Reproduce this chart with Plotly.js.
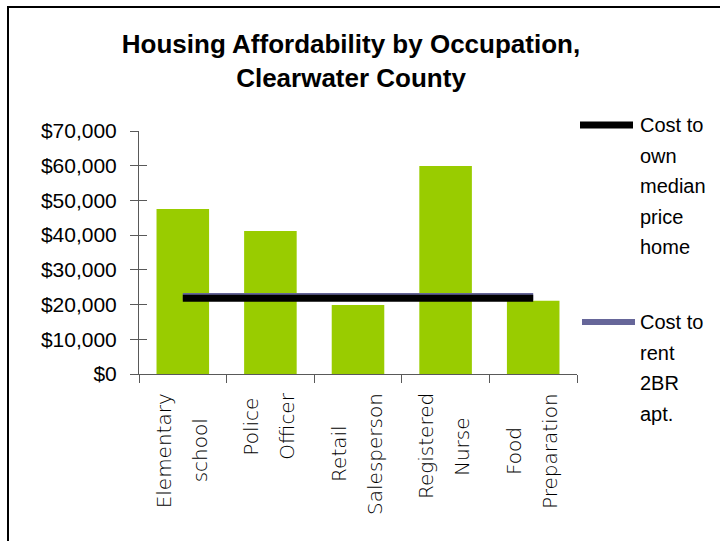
<!DOCTYPE html>
<html>
<head>
<meta charset="utf-8">
<script src="https://cdn.plot.ly/plotly-3.0.1.min.js"></script>
<style>html,body{margin:0;padding:0;background:#fff;}#chart{width:720px;height:541px;}</style>
</head>
<body>
<div id="chart"></div>
<script>
// ---- data ----
const labelLine1 = ['Elementary', 'Police', 'Retail', 'Registered', 'Food'];
const labelLine2 = ['school', 'Officer', 'Salesperson', 'Nurse', 'Preparation'];
const categories = labelLine1.map((a, i) => a + ' ' + labelLine2[i]);
const wages = [47500, 41200, 19900, 59900, 21100];
const ownCost = [21800, 21800, 21800, 21800, 21800];
const rentCost = [22300, 22300, 22300, 22300, 22300];
const yTicks = [0, 10000, 20000, 30000, 40000, 50000, 60000, 70000];
const yTickText = ['$0', '$10,000', '$20,000', '$30,000', '$40,000', '$50,000', '$60,000', '$70,000'];
const legendOwn = ['Cost to', 'own', 'median', 'price', 'home'];
const legendRent = ['Cost to', 'rent', '2BR', 'apt.'];
const titleText = 'Housing Affordability by Occupation,<br>Clearwater County';

// ---- layout geometry (pixels) ----
const W = 720, H = 541;
const L = 139, R = 577, T = 131, B = 374;
const px = x => (x - L) / (R - L);
const py = y => (B - y) / (B - T);

const catFont = 'DejaVu Sans';
const catSize = 20;
const cnv = document.createElement('canvas').getContext('2d');
cnv.font = catSize + 'px "' + catFont + '"';
const tw = s => cnv.measureText(s).width;

const traces = [
  {type: 'bar', x: categories, y: wages, width: 0.6,
   marker: {color: '#99CC00', line: {width: 0}}, showlegend: false, hoverinfo: 'none'},
  {type: 'scatter', mode: 'lines', x: categories, y: rentCost,
   line: {color: '#666699', width: 7}, showlegend: false, hoverinfo: 'none'},
  {type: 'scatter', mode: 'lines', x: categories, y: ownCost,
   line: {color: '#000000', width: 7}, showlegend: false, hoverinfo: 'none'},
  {type: 'scatter', mode: 'lines', x: [categories[0]], y: [0], yaxis: 'y2',
   showlegend: false, hoverinfo: 'none', line: {width: 0}}
];

const annotations = [];
const labelTop = 393;
categories.forEach((c, i) => {
  const block = Math.max(tw(labelLine1[i]), tw(labelLine2[i]));
  const cy = labelTop + block / 2;
  [[labelLine1[i], -19], [labelLine2[i], 17]].forEach(([t, dx]) => {
    annotations.push({
      xref: 'x', yref: 'paper', x: c, y: py(cy), xshift: dx,
      text: t, textangle: -90, showarrow: false,
      xanchor: 'center', yanchor: 'middle',
      font: {family: catFont, size: catSize, color: '#000', weight: 300}
    });
  });
});
const legFont = {family: 'Liberation Sans, Arial, sans-serif', size: 20, color: '#000'};
legendOwn.forEach((t, k) => annotations.push({
  xref: 'paper', yref: 'paper', x: px(638), y: py(125 + k * 30.5), text: t,
  showarrow: false, xanchor: 'left', yanchor: 'middle', font: legFont}));
legendRent.forEach((t, k) => annotations.push({
  xref: 'paper', yref: 'paper', x: px(638), y: py(322 + k * 30.7), text: t,
  showarrow: false, xanchor: 'left', yanchor: 'middle', font: legFont}));

const shapes = [
  {type: 'line', xref: 'paper', yref: 'paper', x0: px(580), x1: px(633), y0: py(125), y1: py(125),
   line: {color: '#000', width: 7}},
  {type: 'line', xref: 'paper', yref: 'paper', x0: px(582), x1: px(635), y0: py(322), y1: py(322),
   line: {color: '#666699', width: 6}},
  {type: 'rect', xref: 'paper', yref: 'paper', x0: px(8), x1: px(740), y0: py(560), y1: py(7),
   line: {color: '#000', width: 2}, fillcolor: 'rgba(0,0,0,0)'}
];

const axisColor = '#595959';
const layout = {
  width: W, height: H,
  margin: {l: L, r: W - R, t: T, b: H - B, pad: 0},
  paper_bgcolor: '#fff', plot_bgcolor: '#fff',
  showlegend: false,
  title: {text: titleText, x: 351 / W, xanchor: 'center', y: 1 - 53 / H, yanchor: 'middle',
          font: {family: 'Liberation Sans, Arial, sans-serif', size: 26, weight: 'bold', color: '#000'}},
  xaxis: {type: 'category', range: [-0.5, 4.5], showticklabels: false, ticks: 'outside', ticklen: 8,
          tickson: 'boundaries', tickcolor: axisColor, tickwidth: 1, showline: true, linecolor: axisColor,
          linewidth: 1, showgrid: false, zeroline: false, fixedrange: true},
  yaxis: {range: [0, 70000], tickmode: 'array', tickvals: yTicks, ticktext: yTickText, ticks: 'outside',
          ticklen: 8, tickcolor: axisColor, showline: true, linecolor: axisColor, linewidth: 1,
          showgrid: false, zeroline: false, ticklabelstandoff: 9,
          tickfont: {family: 'Liberation Sans, Arial, sans-serif', size: 21, color: '#000'}},
  yaxis2: {range: [0, 70000], overlaying: 'y', anchor: 'x', side: 'left', tickmode: 'array', tickvals: yTicks,
           ticks: 'inside', ticklen: 8, tickcolor: axisColor, showticklabels: false,
           showline: false, showgrid: false, zeroline: false},
  annotations: annotations,
  shapes: shapes
};

Plotly.newPlot('chart', traces, layout, {displayModeBar: false, staticPlot: true});
</script>
</body>
</html>
